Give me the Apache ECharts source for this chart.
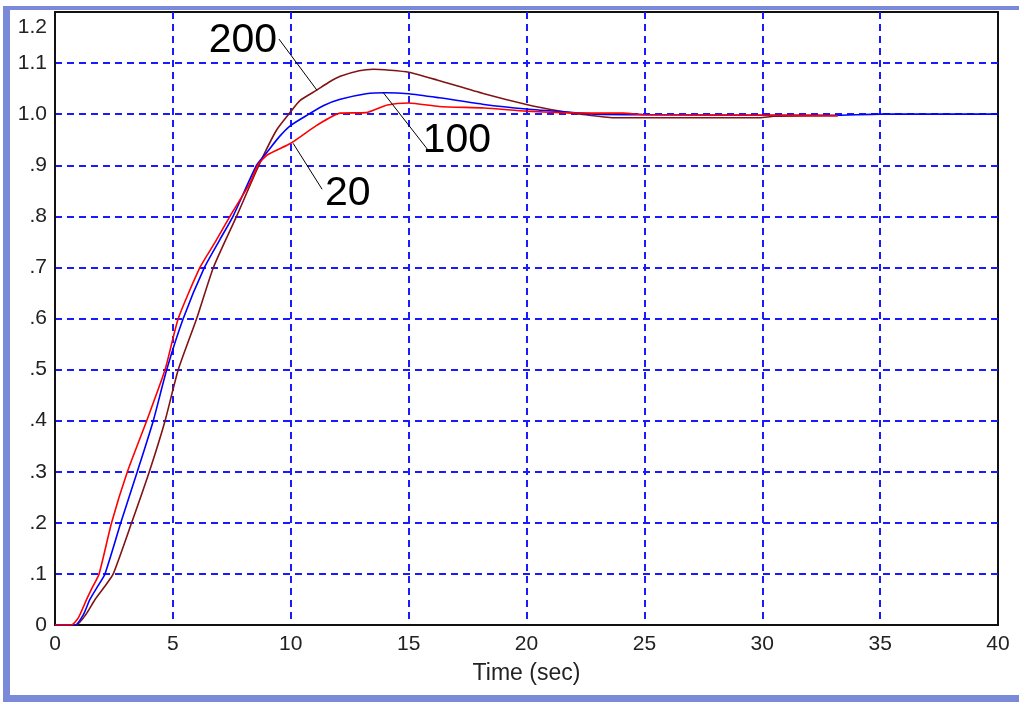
<!DOCTYPE html>
<html>
<head>
<meta charset="utf-8">
<script src="https://cdn.jsdelivr.net/npm/echarts@6/dist/echarts.min.js"></script>
<style>
  html, body { margin: 0; padding: 0; background: #fff; }
  #main { width: 1019px; height: 702px; }
</style>
</head>
<body>
<div id="main"></div>
<script>
// step response, gain 20 (red)
var t20 = [0, 0.7, 1.0, 1.34, 1.6, 1.87, 2.4, 3.07, 3.89, 4.67, 5.23, 6.15, 6.8, 7.42, 8.27, 8.6, 9.0, 10.0, 11.1, 12.1, 13.2, 14.1, 15.0, 16.3, 18.2, 20.0, 21.5, 23.0, 24.1, 25.0, 30.5, 33.2];
var y20 = [0, 0, 0.015, 0.05, 0.075, 0.1, 0.2, 0.3, 0.4, 0.5, 0.6, 0.7, 0.75, 0.8, 0.865, 0.9, 0.92, 0.943, 0.978, 1.002, 1.003, 1.018, 1.022, 1.015, 1.012, 1.006, 1.003, 1.002, 1.002, 0.999, 0.998, 0.997];

// gain 100 (blue)
var t100 = [0, 0.85, 1.2, 1.48, 1.8, 2.12, 2.79, 3.49, 4.17, 4.74, 5.44, 6.34, 7.0, 7.55, 8.55, 9.0, 9.5, 10.0, 10.8, 11.4, 12.1, 13.2, 14.0, 15.0, 16.3, 18.2, 20.0, 21.7, 23.0, 25.0, 30.0, 33.0, 35.0, 40.0];
var y100 = [0, 0, 0.02, 0.05, 0.075, 0.1, 0.2, 0.3, 0.4, 0.5, 0.6, 0.7, 0.755, 0.8, 0.9, 0.926, 0.955, 0.978, 1.001, 1.017, 1.029, 1.04, 1.042, 1.04, 1.032, 1.019, 1.01, 1.004, 1.0, 0.999, 0.998, 0.998, 1.0, 1.0];

// gain 200 (brown)
var t200 = [0, 0.9, 1.3, 1.7, 2.1, 2.47, 3.25, 4.0, 4.67, 5.23, 6.01, 6.72, 7.7, 8.65, 9.4, 10.0, 10.4, 11.1, 11.6, 12.1, 12.9, 13.5, 14.2, 15.0, 16.2, 18.2, 20.0, 21.4, 22.3, 23.7, 29.9, 30.5, 33.2];
var y200 = [0, 0, 0.02, 0.05, 0.075, 0.1, 0.2, 0.3, 0.4, 0.5, 0.6, 0.7, 0.8, 0.9, 0.969, 1.005, 1.027, 1.047, 1.062, 1.074, 1.085, 1.088, 1.086, 1.082, 1.067, 1.04, 1.019, 1.006, 1.0, 0.993, 0.993, 0.996, 0.997];

// annotation: label text, label anchor, leader line start/end (data units)
var noteText = ['20', '100', '200'];
var noteAnchor = [[11.45, 0.845], [15.6, 0.949], [9.42, 1.143]];
var noteFrom = [[10.1, 0.943], [13.91, 1.043], [9.5, 1.147]];
var noteTo = [[11.33, 0.853], [15.82, 0.93], [11.11, 1.047]];
var noteSide = ['right', 'right', 'left'];

function pairs(t, y) {
  var out = [];
  for (var i = 0; i < t.length; i++) out.push([t[i], y[i]]);
  return out;
}

function note(i) {
  return {
    markLine: {
      silent: true,
      symbol: ['none', 'none'],
      lineStyle: { color: '#000', width: 1, type: 'solid' },
      label: { show: false },
      data: [[{ coord: noteFrom[i] }, { coord: noteTo[i] }]]
    },
    markPoint: {
      silent: true,
      symbol: 'circle',
      symbolSize: 0,
      label: {
        show: true,
        position: noteSide[i],
        distance: 0,
        formatter: noteText[i],
        fontFamily: 'Liberation Sans, Arial, sans-serif',
        fontSize: 41,
        color: '#000'
      },
      data: [{ coord: noteAnchor[i] }]
    }
  };
}

var chart = echarts.init(document.getElementById('main'));

var lineSeries = [
  { name: '200', t: t200, y: y200, color: '#801414', n: 2 },
  { name: '100', t: t100, y: y100, color: '#0000ff', n: 1 },
  { name: '20', t: t20, y: y20, color: '#ff0000', n: 0 }
].map(function (s) {
  var n = note(s.n);
  return {
    name: s.name,
    type: 'line',
    data: pairs(s.t, s.y),
    showSymbol: false,
    smooth: 0.2,
    lineStyle: { color: s.color, width: 1.6 },
    itemStyle: { color: s.color },
    markLine: n.markLine,
    markPoint: n.markPoint
  };
});

var frameColor = '#7b89d9';

var option = {
  animation: false,
  backgroundColor: '#fff',
  textStyle: { fontFamily: 'Liberation Sans, Arial, sans-serif' },
  graphic: [
    { type: 'rect', shape: { x: 3, y: 6, width: 1016, height: 4 }, style: { fill: frameColor } },
    { type: 'rect', shape: { x: 3, y: 6, width: 7, height: 696 }, style: { fill: frameColor } },
    { type: 'rect', shape: { x: 3, y: 695, width: 1016, height: 7 }, style: { fill: frameColor } }
  ],
  grid: {
    left: 55,
    right: 21,
    top: 12,
    bottom: 77,
    show: true,
    borderColor: '#111',
    borderWidth: 2,
    backgroundColor: 'transparent'
  },
  xAxis: {
    type: 'value',
    min: 0,
    max: 40,
    interval: 5,
    name: 'Time (sec)',
    nameLocation: 'middle',
    nameGap: 37,
    nameTextStyle: { fontSize: 23, color: '#222' },
    axisLine: { show: true, lineStyle: { color: '#111', width: 2 } },
    axisTick: { show: false },
    axisLabel: { fontSize: 21, color: '#222', margin: 9 },
    splitLine: {
      show: true,
      showMinLine: false,
      showMaxLine: false,
      lineStyle: { color: '#1a1aff', width: 2, type: [7, 5] }
    }
  },
  yAxis: {
    type: 'value',
    min: 0,
    max: 1.2,
    interval: 0.1,
    axisLine: { show: true, lineStyle: { color: '#111', width: 2 } },
    axisTick: { show: false },
    axisLabel: {
      fontSize: 21,
      color: '#222',
      margin: 8,
      formatter: function (v) {
        var r = Math.round(v * 10);
        if (r === 0) return '0';
        if (r === 12) return '{m|1.2}';
        if (r < 10) return '.' + r;
        return (r / 10).toFixed(1);
      },
      rich: {
        m: { fontSize: 21, color: '#222', padding: [30, 0, 0, 0] }
      }
    },
    splitLine: {
      show: true,
      showMinLine: false,
      showMaxLine: false,
      lineStyle: { color: '#1a1aff', width: 2, type: [7, 5] }
    }
  },
  series: lineSeries
};

chart.setOption(option);
</script>
</body>
</html>
